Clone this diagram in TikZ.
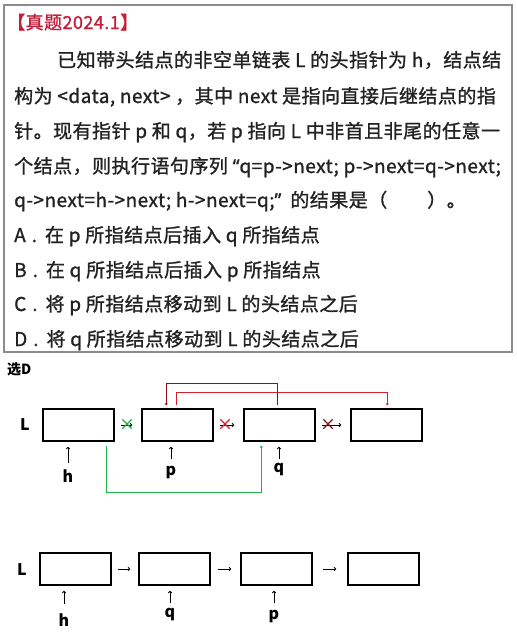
\documentclass[tikz,border=0pt]{standalone}
\usepackage{fontspec}
\setmainfont{Noto Sans CJK SC}
\newfontfamily\qfont{Noto Sans CJK SC}[FakeBold=1.2,LetterSpace=2.5]
\newfontfamily\quotefont{Noto Sans}[FakeBold=1.2,LetterSpace=2.5]
\usetikzlibrary{calc,shapes.misc,arrows.meta}
\definecolor{titlered}{HTML}{C41E3A}
\definecolor{linkred}{HTML}{D42030}
\definecolor{linkdark}{HTML}{8A1020}
\definecolor{linkgreen}{HTML}{22B14C}
\definecolor{framegray}{HTML}{8C8C8C}
\definecolor{textgray}{HTML}{222222}
\newcommand{\openq}{{\quotefont “}}
\newcommand{\closeq}{{\quotefont ”}}

\begin{document}
\begin{tikzpicture}[x=1pt,y=-1pt,
	txt/.style={anchor=base west,inner sep=0pt,text=textgray,font=\qfont\fontsize{19}{22}\selectfont},
	lbl/.style={inner sep=0pt,font=\fontsize{16}{18}\selectfont\bfseries},
	nodebox/.style={draw,line width=1.5pt,minimum width=71pt,minimum height=32pt,inner sep=0pt},
	link/.style={line width=0.8pt,-{To[length=2.5pt,width=4pt]},shorten <=6pt,shorten >=9pt},
	ptr/.style={line width=0.8pt,-{To[length=2.5pt,width=4pt]},shorten <=6pt,shorten >=5pt},
	relink/.style={line width=0.9pt,-{To[length=2pt,width=3pt]}},
	crossmark/.style={cross out,line width=1.3pt,minimum size=8pt,inner sep=0pt}]
	\useasboundingbox (0,0) rectangle (517,638);
	
	% question frame
	\draw[framegray,line width=1.2pt] (4,5) rectangle (512,352);
	
	\node[txt,text=titlered,font=\qfont\fontsize{18}{20}\selectfont] (title) at (7,29) {【真题2024.1】};
	\node[txt] (l1) at (57,67) {已知带头结点的非空单链表 L 的头指针为 h，结点结};
	\node[txt] (l2) at (14,103) {构为 <data, next> ，其中 next 是指向直接后继结点的指};
	\node[txt] (l3) at (14,138) {针。现有指针 p 和 q，若 p 指向 L 中非首且非尾的任意一};
	\node[txt] (l4) at (14,173) {个结点，则执行语句序列 \openq q=p->next; p->next=q->next;};
	\node[txt] (l5) at (14,207) {q->next=h->next; h->next=q;\closeq\hspace{9pt}的结果是（\hspace{40pt}）。};
	\node[txt] (optA) at (14,242) {A\hspace{6pt}.\hspace{8pt}在 p 所指结点后插入 q 所指结点};
	\node[txt] (optB) at (14,277) {B\hspace{6pt}.\hspace{8pt}在 q 所指结点后插入 p 所指结点};
	\node[txt] (optC) at (14,311) {C\hspace{6pt}.\hspace{8pt}将 p 所指结点移动到 L 的头结点之后};
	\node[txt] (optD) at (14,346) {D\hspace{6pt}.\hspace{8pt}将 q 所指结点移动到 L 的头结点之后};
	
	\node[anchor=west,inner sep=0pt,font=\fontsize{14}{16}\selectfont\bfseries] (ans) at (7,369) {选D};
	
	% before
	\node[lbl] (L1) at (25,425) {L};
	\node[nodebox] (a1) at (78.5,425) {};
	\node[nodebox] (a2) at (177.5,425) {};
	\node[nodebox] (a3) at (279.5,425) {};
	\node[nodebox] (a4) at (386.5,425) {};
	
	\draw[link] (a1.east) -- (a2.west);
	\draw[link] (a2.east) -- (a3.west);
	\draw[link] (a3.east) -- (a4.west);
	\node[crossmark,draw=linkgreen] (x1) at (127,424) {};
	\node[crossmark,draw=linkred] (x2) at (225,424) {};
	\node[crossmark,draw=linkdark] (x3) at (328,424) {};
	
	\node[lbl] (h1) at (68,476) {h};
	\node[lbl] (p1) at (171,472) {p};
	\node[lbl] (q1) at (279,469) {q};
	\draw[ptr] (h1.north) -- (h1.north |- a1.south);
	\draw[ptr] (p1.north) -- (p1.north |- a2.south);
	\draw[ptr,shorten <=3pt] (q1.north) -- (q1.north |- a3.south);
	
	\draw[relink,linkgreen] ($(a1.south east)+(-8,4)$) -- ++(0,47) -| ($(a3.south west)+(18,4)$);
	\draw[relink,linkdark] ($(a3.north west)+(34,-3)$) -- ++(0,-22) -| ($(a2.north west)+(25,-3)$);
	\draw[relink,linkred] ($(a2.north west)+(35,-3)$) -- ++(0,-13) -| ($(a4.north west)+(37,-3)$);
	
	% after
	\node[lbl] (L2) at (22,570) {L};
	\node[nodebox] (b1) at (75.5,569) {};
	\node[nodebox] (b2) at (174.5,569) {};
	\node[nodebox] (b3) at (276.5,569) {};
	\node[nodebox] (b4) at (383.5,569) {};
	
	\draw[link,shorten >=8pt] (b1.east) -- (b2.west);
	\draw[link,shorten <=7pt] (b2.east) -- (b3.west);
	\draw[link,shorten <=10pt,shorten >=11pt] (b3.east) -- (b4.west);
	
	\node[lbl] (h2) at (64,620) {h};
	\node[lbl] (q2) at (170,614) {q};
	\node[lbl] (p2) at (274,616) {p};
	\draw[ptr,shorten <=9pt] (h2.north) -- (h2.north |- b1.south);
	\draw[ptr,shorten <=4pt] (q2.north) -- (q2.north |- b2.south);
	\draw[ptr] (p2.north) -- (p2.north |- b3.south);
	
\end{tikzpicture}
\end{document}
